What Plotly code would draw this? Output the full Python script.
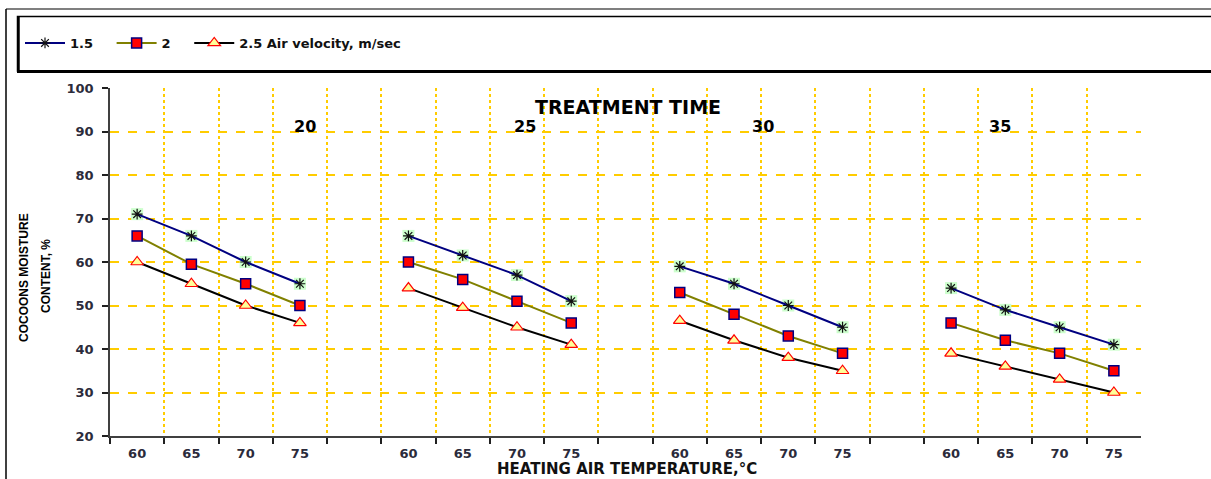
import plotly.graph_objects as go

# ---------------- data ----------------
temps = [60, 65, 70, 75]
times = [20, 25, 30, 35]
velocities = ["1.5", "2", "2.5 Air velocity, m/sec"]

# moisture content (%) for each treatment time group (20,25,30,35) x temperature (60..75)
mc_v15 = [71, 66, 60, 55,   66, 61.5, 57, 51,   59, 55, 50, 45,   54, 49, 45, 41]
mc_v20 = [66, 59.5, 55, 50, 60, 56, 51, 46,     53, 48, 43, 39,   46, 42, 39, 35]
mc_v25 = [60, 55, 50, 46,   54, 49.5, 45, 41,   46.5, 42, 38, 35, 39, 36, 33, 30]

y_ticks = [20, 30, 40, 50, 60, 70, 80, 90, 100]

# ---------------- layout helpers ----------------
W, H = 1211, 479
L, R, T, B = 110, 1141, 88, 436
GAP = 1  # empty category between groups
n_per = len(temps)

def slots():
    xs = []
    for g in range(len(times)):
        for i in range(n_per):
            xs.append(g * (n_per + GAP) + i)
    return xs

slot_x = slots()
n_slots = len(times) * n_per + (len(times) - 1) * GAP

def with_gaps(vals):
    xs, ys = [], []
    for g in range(len(times)):
        for i in range(n_per):
            k = g * n_per + i
            xs.append(slot_x[k]); ys.append(vals[k])
        if g < len(times) - 1:
            xs.append(None); ys.append(None)
    return xs, ys

def px(xp):  # pixel -> paper x
    return (xp - L) / (R - L)

def py(yp):  # pixel -> paper y
    return (B - yp) / (B - T)

BOLD = "DejaVu Sans"
NARROW = "Liberation Sans, Arial, sans-serif"
PAD = "\u00a0" * 3  # extra spacing between legend entries

fig = go.Figure()

# series 1.5: green square background (under) + line with asterisks
x1, y1 = with_gaps(mc_v15)
fig.add_trace(go.Scatter(x=x1, y=y1, mode="markers", showlegend=False,
                         marker=dict(symbol="square", size=12, color="#ccffcc",
                                     line=dict(width=0)),
                         legendgroup="a", hoverinfo="skip"))
fig.add_trace(go.Scatter(x=x1, y=y1, mode="lines+markers", name=velocities[0] + PAD,
                         line=dict(color="#000080", width=2),
                         marker=dict(symbol="asterisk-open", size=9, color="#111111",
                                     line=dict(color="#111111", width=1.2)),
                         legendgroup="a"))

x2, y2 = with_gaps(mc_v20)
fig.add_trace(go.Scatter(x=x2, y=y2, mode="lines+markers", name=velocities[1] + PAD,
                         line=dict(color="#808000", width=2),
                         marker=dict(symbol="square", size=10, color="#ff0000",
                                     line=dict(color="#000080", width=1.5))))

x3, y3 = with_gaps(mc_v25)
fig.add_trace(go.Scatter(x=x3, y=y3, mode="lines+markers", name=velocities[2],
                         line=dict(color="#000000", width=2),
                         marker=dict(symbol="triangle-up", size=11, color="#ffff99",
                                     line=dict(color="#ff0000", width=1.2))))

tick_labels = [str(t) for _ in times for t in temps]
boundaries = [i - 0.5 for i in range(n_slots)]

fig.update_xaxes(
    range=[-0.5, n_slots - 0.5],
    tickvals=slot_x, ticktext=tick_labels,
    ticks="", showgrid=False, ticklabelstandoff=5,
    tickfont=dict(family=BOLD, size=13, color="#2b2b3b", weight="bold"),
    showline=True, linecolor="#404040", linewidth=1.5,
    zeroline=False,
    minor=dict(tickvals=boundaries, ticks="outside", ticklen=6, tickwidth=1.5,
               tickcolor="#202020", showgrid=True, gridcolor="#ffcc00",
               griddash="dot", gridwidth=1.5),
)
fig.update_yaxes(
    range=[20, 100], tickvals=y_ticks,
    ticks="outside", ticklen=6, tickwidth=1.5, tickcolor="#202020",
    ticklabelstandoff=6,
    tickfont=dict(family=BOLD, size=13, color="#2b2b3b", weight="bold"),
    showgrid=False, zeroline=False,
    showline=True, linecolor="#404040", linewidth=1.5,
    minor=dict(tickvals=y_ticks[1:-1], ticks="", showgrid=True,
               gridcolor="#ffcc00", griddash="dash", gridwidth=1.5),
)

def ann(text, xp, yp, size, family=BOLD, angle=0, color="#000"):
    return dict(text=text, x=px(xp), y=py(yp), xref="paper", yref="paper",
                xanchor="center", yanchor="middle", textangle=angle,
                showarrow=False,
                font=dict(family=family, size=size, color=color, weight="bold"))

annotations = [
    ann("TREATMENT TIME", 628, 107, 19),
    ann("HEATING AIR TEMPERATURE,°C", 627, 469, 15, color="#111"),
    ann("COCOONS MOISTURE", 24, 278, 12, family=NARROW, angle=-90),
    ann("CONTENT, %", 46, 276, 12, family=NARROW, angle=-90),
]
group_label_px = [305, 525, 763, 1000]
for t, gx in zip(times, group_label_px):
    annotations.append(ann(str(t), gx, 126, 16))

shapes = [
    # outer frame (top & left)
    dict(type="line", xref="paper", yref="paper", x0=px(6), x1=px(1215), y0=py(9), y1=py(9),
         line=dict(color="#000", width=1.2)),
    dict(type="line", xref="paper", yref="paper", x0=px(6), x1=px(6), y0=py(9), y1=py(485),
         line=dict(color="#000", width=1.5)),
    # legend box
    dict(type="rect", xref="paper", yref="paper", x0=px(17.5), x1=px(1215), y0=py(16.5), y1=py(71),
         line=dict(color="#000", width=1.5)),
    dict(type="line", xref="paper", yref="paper", x0=px(17), x1=px(1215), y0=py(71.5), y1=py(71.5),
         line=dict(color="#000", width=3)),
    dict(type="line", xref="paper", yref="paper", x0=px(18.5), x1=px(18.5), y0=py(16), y1=py(72),
         line=dict(color="#000", width=2.5)),
]

fig.update_layout(
    width=W, height=H,
    margin=dict(l=L, r=W - R, t=T, b=H - B),
    plot_bgcolor="white", paper_bgcolor="white",
    showlegend=True,
    legend=dict(orientation="h", xref="container", yref="container",
                x=20 / W, y=1 - 43 / H, xanchor="left", yanchor="middle",
                bgcolor="rgba(0,0,0,0)", itemwidth=40, tracegroupgap=0,
                font=dict(family=BOLD, size=13, color="#111", weight="bold")),
    annotations=annotations,
    shapes=shapes,
)

fig.write_html("out.html", config={"displayModeBar": False},
               post_script="document.body.style.margin='0px';document.body.style.overflow='hidden';")
